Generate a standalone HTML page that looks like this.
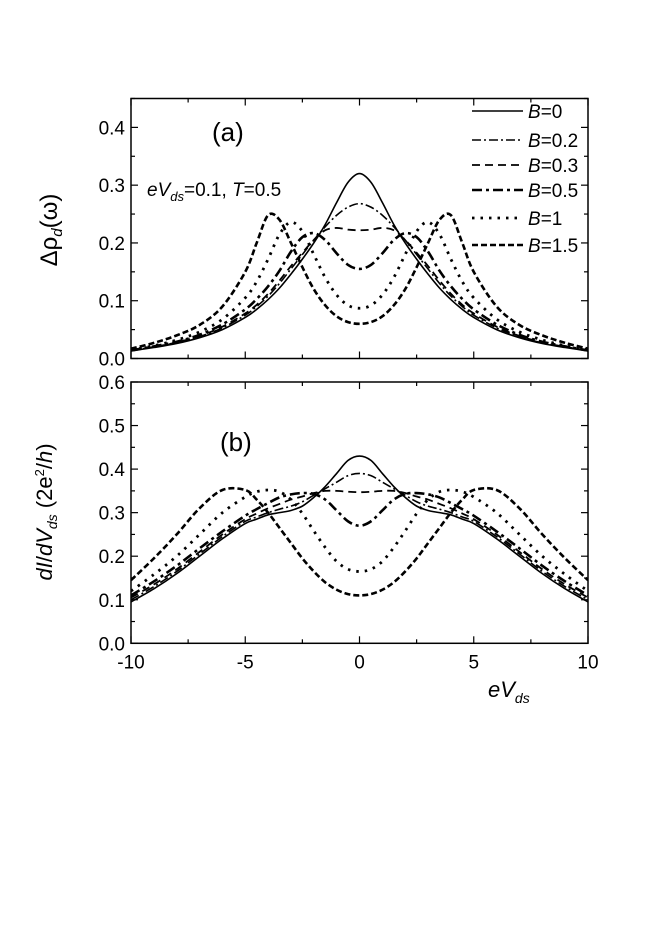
<!DOCTYPE html>
<html><head><meta charset="utf-8">
<style>
html,body{margin:0;padding:0;background:#fff;}
svg{display:block;font-family:"Liberation Sans",Arial,sans-serif;}
</style></head>
<body>
<svg id="chart" width="654" height="941" viewBox="0 0 654 941" xmlns="http://www.w3.org/2000/svg">
<rect width="654" height="941" fill="#fff"/>
<g id="panelA"></g>
<g id="panelB"></g>
<g id="labels">
  <text x="212" y="141" font-size="26">(a)</text>
  <text x="147" y="196" font-size="19"><tspan font-style="italic">eV</tspan><tspan font-style="italic" font-size="13" dy="5">ds</tspan><tspan dy="-5">=0.1,  </tspan><tspan font-style="italic">T</tspan><tspan>=0.5</tspan></text>
  <text transform="translate(57,230) rotate(-90)" text-anchor="middle" font-size="24">Δρ<tspan font-style="italic" font-size="15" dy="5">d</tspan><tspan dy="-5">(ω)</tspan></text>
  <text x="220" y="451" font-size="26">(b)</text>
  <text transform="translate(52,512) rotate(-90)" text-anchor="middle" font-size="22"><tspan font-style="italic">dI</tspan>/<tspan font-style="italic">dV</tspan><tspan font-style="italic" font-size="14" dy="5">ds</tspan><tspan dy="-5"> (2e</tspan><tspan font-size="13" dy="-8">2</tspan><tspan dy="8">/</tspan><tspan font-style="italic">h</tspan>)</text>
  <text x="488" y="697" font-size="22" font-style="italic">eV<tspan font-size="14" dy="6">ds</tspan></text>
</g>
</svg>
<script>
// ---- data ----
const xs = [0,0.5,1,1.5,2,2.5,3,3.5,4,4.5,5,6,7,8,9,10];
const seriesNames = ["B=0","B=0.2","B=0.3","B=0.5","B=1","B=1.5"];
const rhoB0  = [.320,.305,.270,.232,.200,.172,.146,.122,.102,.085,.071,.050,.036,.026,.019,.013];
const rhoB02 = [.268,.262,.248,.228,.205,.180,.155,.130,.108,.090,.075,.053,.038,.027,.020,.014];
const rhoB03 = [.222,.223,.226,.222,.205,.183,.160,.135,.112,.093,.078,.055,.039,.028,.020,.014];
const rhoB05 = [.155,.162,.182,.205,.217,.210,.185,.152,.125,.103,.085,.059,.041,.029,.021,.014];
const rhoB1  = [.087,.092,.110,.140,.180,.220,.236,.215,.172,.133,.105,.068,.046,.032,.022,.015];
const rhoB15 = [.060,.063,.073,.092,.120,.158,.200,.240,.248,.200,.150,.090,.058,.040,.027,.017];
const gB0  = [.430,.420,.390,.360,.335,.315,.305,.300,.295,.285,.275,.240,.200,.160,.125,.095];
const gB02 = [.390,.385,.370,.355,.340,.325,.315,.308,.300,.290,.280,.245,.205,.165,.130,.100];
const gB03 = [.347,.348,.350,.350,.345,.337,.330,.320,.310,.298,.285,.250,.210,.170,.135,.105];
const gB05 = [.270,.280,.305,.330,.343,.345,.342,.335,.322,.308,.293,.257,.218,.178,.142,.110];
const gB1  = [.165,.170,.188,.220,.258,.298,.330,.348,.352,.348,.336,.300,.250,.200,.158,.120];
const gB15 = [.110,.113,.123,.140,.165,.195,.230,.265,.300,.330,.352,.352,.310,.250,.195,.145];
const xTicks = [-10,-5,0,5,10];
const yTicksA = [0.0,0.1,0.2,0.3,0.4];
const yTicksB = [0.0,0.1,0.2,0.3,0.4,0.5,0.6];

// ---- layout ----
const NS="http://www.w3.org/2000/svg";
const X0=131,X1=588;
const xScale = v => X0 + (v+10)/20*(X1-X0);
const styles = [
  {w:1.6, d:"", c:"butt"},
  {w:1.6, d:"9 3 2 3", c:"butt"},
  {w:1.8, d:"8 5", c:"butt"},
  {w:2.6, d:"10 4 3 4", c:"butt"},
  {w:2.8, d:"2.5 6", c:"butt"},
  {w:2.6, d:"6 3", c:"butt"}
];
function el(tag, attrs, parent){
  const e=document.createElementNS(NS,tag);
  for(const k in attrs) e.setAttribute(k,attrs[k]);
  parent.appendChild(e); return e;
}
function smoothPath(pts){
  let d="M"+pts[0][0].toFixed(2)+","+pts[0][1].toFixed(2);
  for(let i=0;i<pts.length-1;i++){
    const p0=pts[Math.max(0,i-1)],p1=pts[i],p2=pts[i+1],p3=pts[Math.min(pts.length-1,i+2)];
    const c1=[p1[0]+(p2[0]-p0[0])/6,p1[1]+(p2[1]-p0[1])/6];
    const c2=[p2[0]-(p3[0]-p1[0])/6,p2[1]-(p3[1]-p1[1])/6];
    d+="C"+c1[0].toFixed(2)+","+c1[1].toFixed(2)+" "+c2[0].toFixed(2)+","+c2[1].toFixed(2)+" "+p2[0].toFixed(2)+","+p2[1].toFixed(2);
  }
  return d;
}
function drawPanel(g, yTop, yBot, yMax, yTicks, series, prefix, showXLabels){
  const yScale = v => yBot - v/yMax*(yBot-yTop);
  const tk = el('g',{},g);
  
  
  for(let v=-10; v<=10; v+=2.5){
    const x=xScale(v), major = (v%5===0), L = major?7:4;
    el('line',{x1:x,y1:yBot,x2:x,y2:yBot-L,stroke:'#000','stroke-width':1.2},tk);
    el('line',{x1:x,y1:yTop,x2:x,y2:yTop+L,stroke:'#000','stroke-width':1.2},tk);
  }
  for(let i=0;i<=Math.round(yMax/0.05);i++){
    const v=i*0.05, y=yScale(v), major=(i%2===0), L=major?7:4;
    el('line',{x1:X0,y1:y,x2:X0+L,y2:y,stroke:'#000','stroke-width':1.2},tk);
    el('line',{x1:X1,y1:y,x2:X1-L,y2:y,stroke:'#000','stroke-width':1.2},tk);
  }
  yTicks.forEach(v=>{
    const t=el('text',{x:X0-6,y:yScale(v)+7,'text-anchor':'end','font-size':19},g);
    
    
    t.textContent=v.toFixed(1);
  });
  if(showXLabels){
    xTicks.forEach(v=>{
      const t=el('text',{x:xScale(v),y:yBot+25,'text-anchor':'middle','font-size':19},g);
      
      
      t.textContent=String(v);
    });
  }
  const clipId=prefix+'-clip';
  const cp=el('clipPath',{id:clipId},g);
  el('rect',{x:X0,y:yTop,width:X1-X0,height:yBot-yTop},cp);
  series.forEach((vals,si)=>{
    const pts=[];
    for(let i=xs.length-1;i>0;i--) pts.push([xScale(-xs[i]),yScale(vals[i])]);
    for(let i=0;i<xs.length;i++) pts.push([xScale(xs[i]),yScale(vals[i])]);
    const p=el('path',{d:smoothPath(pts),fill:'none',stroke:'#000','stroke-width':styles[si].w,'clip-path':'url(#'+clipId+')'},g);
    if(styles[si].d) p.setAttribute('stroke-dasharray',styles[si].d);
    
    
  });
  const fr=el('rect',{x:X0,y:yTop,width:X1-X0,height:yBot-yTop,fill:'none',stroke:'#000','stroke-width':1.5},g);
  
  
}
drawPanel(document.getElementById('panelA'), 98.5, 358.5, 0.45, yTicksA, [rhoB0,rhoB02,rhoB03,rhoB05,rhoB1,rhoB15], 'panel-a', false);
drawPanel(document.getElementById('panelB'), 382, 643.3, 0.6, yTicksB, [gB0,gB02,gB03,gB05,gB1,gB15], 'panel-b', true);

// legend
const lg=el('g',{},document.getElementById('panelA'));


const legendY=[111,140,165,190,218,245];
seriesNames.forEach((n,i)=>{
  const row=el('g',{},lg);
  
  
  const l=el('line',{x1:472,y1:legendY[i],x2:523,y2:legendY[i],stroke:'#000','stroke-width':styles[i].w},row);
  if(styles[i].d) l.setAttribute('stroke-dasharray',styles[i].d);
  const t=el('text',{x:528,y:legendY[i]+7,'font-size':19},row);
  const parts=n.split('=');
  const a=el('tspan',{'font-style':'italic'},t); a.textContent=parts[0];
  const b=el('tspan',{},t); b.textContent='='+parts[1];
});
</script>
</body></html>
